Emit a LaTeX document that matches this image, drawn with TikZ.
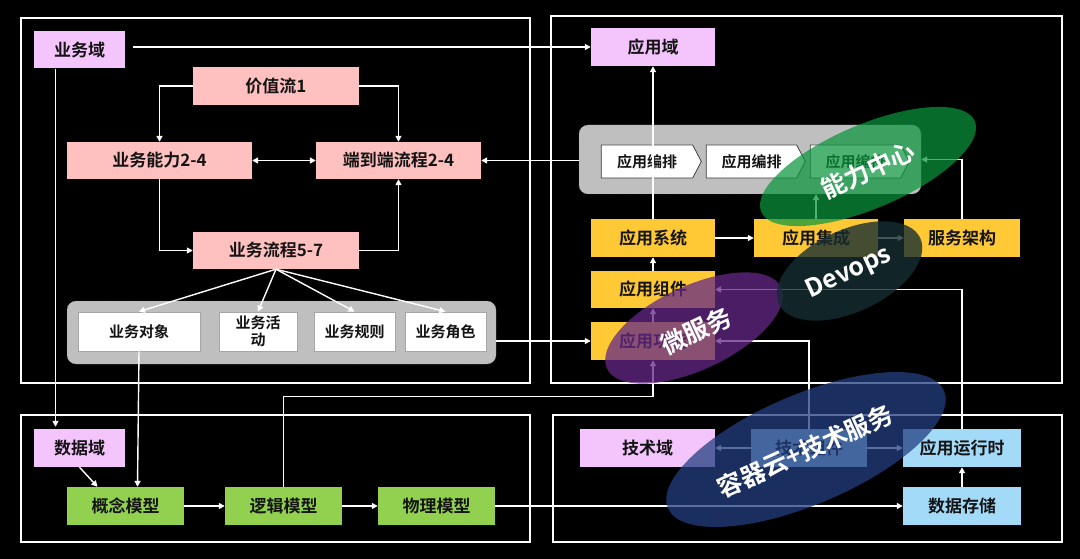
\documentclass[tikz,border=0pt]{standalone}
\usepackage{fontspec}
\setmainfont{Noto Sans CJK SC}[BoldFont={Noto Sans CJK SC Bold}]
\usetikzlibrary{shapes.geometric,shapes.symbols,arrows.meta}
\definecolor{domc}{HTML}{F4C4FC}
\definecolor{valc}{HTML}{FFC0C0}
\definecolor{grnc}{HTML}{92D050}
\definecolor{ylwc}{HTML}{FFC936}
\definecolor{bluc}{HTML}{A3DAF8}
\definecolor{grpc}{HTML}{BFBFBF}
\definecolor{txtc}{HTML}{141414}
\definecolor{egreen}{RGB}{10,150,60}
\definecolor{edev}{RGB}{22,45,50}
\definecolor{emicro}{RGB}{100,40,135}
\definecolor{eblue}{RGB}{36,64,128}
\begin{document}
\begin{tikzpicture}[x=1pt,y=-1pt,
  box/.style={inner sep=0pt, text=txtc, font=\bfseries\fontsize{17}{20}\selectfont},
  dom/.style={box, fill=domc},
  val/.style={box, fill=valc},
  wbox/.style={box, fill=white, draw=gray!70, line width=0.8pt, align=center, font=\bfseries\fontsize{15}{17}\selectfont},
  grn/.style={box, fill=grnc},
  ylw/.style={box, fill=ylwc},
  blu/.style={box, fill=bluc},
  chev/.style={shape=signal, signal to=east, signal from=nowhere, signal pointer angle=125, fill=white, draw=gray!50!black, line width=0.8pt, inner sep=0pt, text=txtc, font=\bfseries\fontsize{15}{17}\selectfont},
  grp/.style={fill=grpc, draw=gray!70, densely dotted, rounded corners=9pt, inner sep=0pt},
  frame/.style={draw=white, line width=2pt},
  arr/.style={draw=white, line width=1.4pt, -{Triangle[length=6pt,width=6pt]}},
  arrbi/.style={draw=white, line width=1.4pt, {Triangle[length=6pt,width=6pt]}-{Triangle[length=6pt,width=6pt]}},
  ln/.style={draw=white, line width=1.4pt},
  ell/.style={ellipse, inner sep=0pt, draw=none},
  etext/.style={text=white, inner sep=0pt, font=\bfseries\fontsize{25}{29}\selectfont}
]
\fill[black] (0,0) rectangle (1080,559);
\useasboundingbox (0,0) rectangle (1080,559);

% frames
\draw[frame] (20.5,18) rectangle (530,383);
\draw[frame] (551,16) rectangle (1062,383);
\draw[frame] (20.5,415) rectangle (530,542);
\draw[frame] (553,415) rectangle (1062,542);

% groups
\node[grp, minimum width=429pt, minimum height=63pt] (gb1) at (281.5,332.5) {};
\node[grp, minimum width=342pt, minimum height=69pt] (gb2) at (750,159.5) {};

% left top nodes
\node[dom, minimum width=91pt, minimum height=37pt] (yw) at (79.5,50) {业务域};
\node[val, minimum width=166pt, minimum height=38pt] (jz) at (276,86) {价值流1};
\node[val, minimum width=185pt, minimum height=37pt] (nl) at (159.5,160.5) {业务能力2-4};
\node[val, minimum width=165pt, minimum height=37pt] (e2e) at (398.5,160.5) {端到端流程2-4};
\node[val, minimum width=166pt, minimum height=37pt] (lc) at (276,250.5) {业务流程5-7};
\node[wbox, minimum width=122pt, minimum height=39pt] (dx) at (139,331.5) {业务对象};
\node[wbox, minimum width=78pt, minimum height=39pt] (hd) at (258,331.5) {业务活\\动};
\node[wbox, minimum width=81pt, minimum height=39pt] (gz) at (354.5,331.5) {业务规则};
\node[wbox, minimum width=81pt, minimum height=39pt] (js) at (445.5,331.5) {业务角色};

% left bottom nodes
\node[dom, minimum width=91pt, minimum height=38pt] (dd) at (79.5,448) {数据域};
\node[grn, minimum width=117pt, minimum height=38pt] (gn) at (125.5,506) {概念模型};
\node[grn, minimum width=117pt, minimum height=38pt] (lj) at (283.5,506) {逻辑模型};
\node[grn, minimum width=117pt, minimum height=38pt] (wl) at (436.5,506) {物理模型};

% right top nodes
\node[dom, minimum width=124pt, minimum height=38pt] (ad) at (653,47) {应用域};
\node[chev, minimum width=100pt, minimum height=33pt] (ch1) at (647,161.5) {应用编排};
\node[chev, minimum width=99pt, minimum height=33pt] (ch2) at (751.5,161.5) {应用编排};
\node[chev, minimum width=99pt, minimum height=33pt] (ch3) at (855.5,161.5) {应用编排};
\node[ylw, minimum width=124pt, minimum height=38pt] (as) at (653,238) {应用系统};
\node[ylw, minimum width=124pt, minimum height=38pt] (aj) at (816,238) {应用集成};
\node[ylw, minimum width=116pt, minimum height=38pt] (fw) at (962,238) {服务架构};
\node[ylw, minimum width=124pt, minimum height=37pt] (azj) at (653,289.5) {应用组件};
\node[ylw, minimum width=124pt, minimum height=38pt] (af) at (653,341) {应用功能};

% right bottom nodes
\node[dom, minimum width=135pt, minimum height=38pt] (td) at (647.5,448) {技术域};
\node[blu, minimum width=116pt, minimum height=38pt] (tc) at (809,448) {技术组件};
\node[blu, minimum width=118pt, minimum height=38pt] (yx) at (962,448) {应用运行时};
\node[blu, minimum width=118pt, minimum height=38pt] (sj) at (962,506) {数据存储};

% connectors, business
\draw[arr] ([xshift=8pt]yw.east |- ad.west) -- (ad.west);
\draw[arr] ([xshift=-24pt]yw.south) -- ([xshift=-24pt,yshift=2pt]yw.south |- dd.north);
\draw[arr] (jz.west) -| (nl.north);
\draw[arr] (jz.east) -| (e2e.north);
\draw[arrbi] (nl.east) -- (e2e.west);
\draw[arr] (nl.south) |- (lc.west);
\draw[arr] (lc.east) -| (e2e.south);
\draw[arr] (lc.south) -- (dx.north);
\draw[arr] (lc.south) -- (hd.north);
\draw[arr] (lc.south) -- (gz.north);
\draw[arr] (lc.south) -- (js.north);
\draw[arr] (dx.south) -- ([xshift=12pt]gn.north);
\draw[arr] (dd.south) -- ([xshift=-28pt]gn.north);
\draw[arr] (gn.east) -- (lj.west);
\draw[arr] (lj.east) -- (wl.west);
\draw[arr] (lj.north) |- ([yshift=-36pt]af.south) -- (af.south);
\draw[arr] (wl.east) -- (sj.west);
\draw[arr] (gb1.east |- af.west) -- (af.west);
\draw[arr] (gb2.west |- e2e.east) -- (e2e.east);

% connectors, application
\draw[arr] (as.north) -- (ad.south);
\draw[arr] (as.east) -- (aj.west);
\draw[arr] (aj.east) -- (fw.west);
\draw[arr] (aj.north) -- (aj.north |- gb2.south);
\draw[arr] (fw.north) |- (gb2.east);
\draw[arr] (azj.north) -- (as.south);
\draw[arr] (af.north) -- (azj.south);
\draw[arr] (yx.north) |- (azj.east);
\draw[arr] (tc.north) |- (af.east);
\draw[arr] (tc.west) -- (td.east);
\draw[arr] (tc.east) -- (yx.west);
\draw[arr] (sj.north) -- (yx.south);

% overlay ellipses
\node[ell, fill=egreen, fill opacity=0.72, minimum width=232pt, minimum height=84pt, rotate=23] (eg) at (868,166.5) {};
\node[ell, fill=emicro, fill opacity=0.75, minimum width=192pt, minimum height=84pt, rotate=25] (em) at (694,328) {};
\node[ell, fill=edev, fill opacity=0.8, minimum width=156pt, minimum height=82pt, rotate=25] (ev) at (849.5,271) {};
\node[ell, fill=eblue, fill opacity=0.75, minimum width=300pt, minimum height=110pt, rotate=23] (eb) at (806,449.5) {};

\node[etext, rotate=25] (tg) at (868,170) {能力中心};
\node[etext, rotate=25] (tm) at (696,331) {微服务};
\node[etext, rotate=25] (tv) at (849,273) {Devops};
\node[etext, rotate=24] (tb) at (805,451) {容器云+技术服务};
\end{tikzpicture}
\end{document}
